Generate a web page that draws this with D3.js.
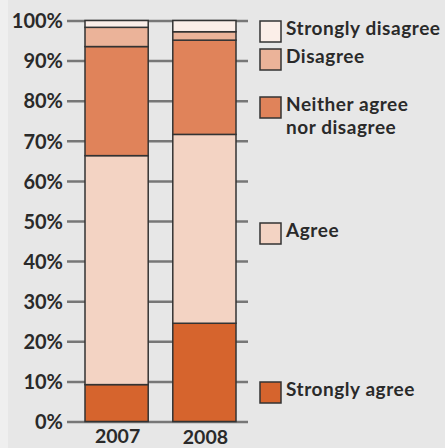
<!DOCTYPE html>
<html>
<head>
<meta charset="utf-8">
<script src="https://cdn.jsdelivr.net/npm/d3@7"></script>
<style>
  html, body { margin: 0; padding: 0; background: #e7e7e7; }
  svg { display: block; }
  text { font-family: Lato, "Open Sans", sans-serif; font-weight: 700; fill: #2a2a2a; }
</style>
</head>
<body>
<svg id="chart" width="445" height="448"></svg>
<script>
// Survey responses by year (percent of respondents)
const years = ["2007", "2008"];
const responses = ["Strongly agree", "Agree", "Neither agree nor disagree", "Disagree", "Strongly disagree"];
const stronglyAgree    = [9.2, 24.5];
const agree            = [57.1, 47.1];
const neither          = [27.2, 23.5];
const disagree         = [4.8, 2.1];
const stronglyDisagree = [1.7, 2.8];
const yTicks = [0, 10, 20, 30, 40, 50, 60, 70, 80, 90, 100];
const colors = ["#d6642d", "#f3d3c3", "#e0835a", "#ebb399", "#fbeee8"];

const seriesValues = [stronglyAgree, agree, neither, disagree, stronglyDisagree];
const rows = years.map((y, i) => {
  const r = { year: y };
  responses.forEach((k, j) => r[k] = seriesValues[j][i]);
  return r;
});

const svg = d3.select("#chart");
svg.append("rect").attr("x", 0).attr("y", 0).attr("width", 8).attr("height", 448).attr("fill", "#efefef");

const y = d3.scaleLinear().domain([0, 100]).range([421.5, 20.5]);
const x = d3.scaleBand().domain(years).range([85, 236]).paddingInner(0.28).paddingOuter(0);

// horizontal gridlines with tick labels
const yAxis = d3.axisLeft(y).tickValues(yTicks).tickFormat(d => d + "%").tickSize(-181).tickPadding(4);
const g = svg.append("g").attr("transform", "translate(67,0)").call(yAxis);
g.select(".domain").remove();
g.selectAll(".tick line").attr("stroke", "#777").attr("stroke-width", 2.5);
g.selectAll(".tick text")
  .attr("font-size", 20)
  .attr("fill", "#2a2a2a").attr("x", -4).attr("dy", "0.36em");

// stacked bars
const stack = d3.stack().keys(responses)(rows);
svg.append("g").selectAll("g").data(stack).join("g")
  .attr("fill", (d, i) => colors[i])
  .selectAll("rect").data(d => d).join("rect")
  .attr("x", d => x(d.data.year))
  .attr("width", x.bandwidth())
  .attr("y", d => y(d[1]))
  .attr("height", d => y(d[0]) - y(d[1]))
  .attr("stroke", "#333").attr("stroke-width", 1.5);

// year labels
const yearOffsets = [0, 1];
svg.append("g").selectAll("text").data(years).join("text")
  .attr("x", d => x(d) + x.bandwidth() / 2 + 1)
  .attr("y", (d, i) => 443 + yearOffsets[i])
  .attr("text-anchor", "middle")
  .attr("font-size", 19.5)
  .text(d => d);

// legend
const legendItems = [
  { key: "Strongly disagree", lines: ["Strongly disagree"], top: 21 },
  { key: "Disagree", lines: ["Disagree"], top: 49 },
  { key: "Neither agree nor disagree", lines: ["Neither agree", "nor disagree"], top: 97 },
  { key: "Agree", lines: ["Agree"], top: 223 },
  { key: "Strongly agree", lines: ["Strongly agree"], top: 382 }
];
const lg = svg.append("g").selectAll("g").data(legendItems).join("g")
  .attr("transform", d => `translate(260,${d.top})`);
lg.append("rect").attr("width", 21).attr("height", 21)
  .attr("fill", d => colors[responses.indexOf(d.key)])
  .attr("stroke", "#333").attr("stroke-width", 1.5);
lg.each(function(d) {
  d3.select(this).selectAll("text").data(d.lines).join("text")
    .attr("x", 26)
    .attr("y", (t, i) => 13.5 + i * 23.5)
    .attr("font-size", 19)
    .attr("letter-spacing", 0.55)
    .text(t => t);
});
</script>
</body>
</html>
